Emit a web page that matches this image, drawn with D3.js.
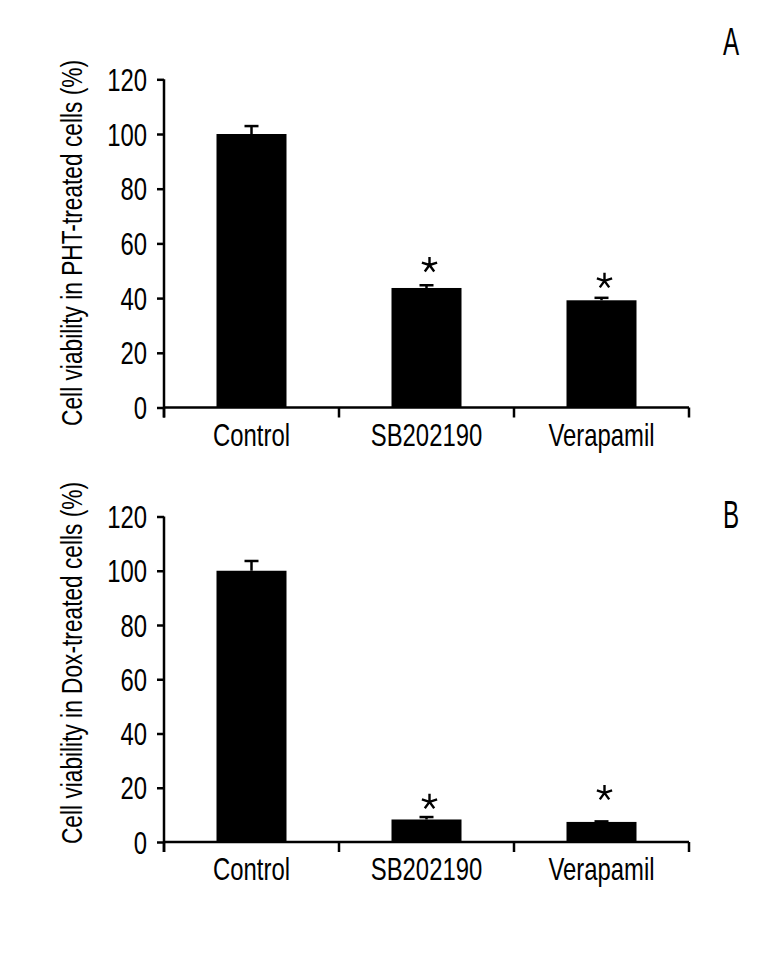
<!DOCTYPE html>
<html>
<head>
<meta charset="utf-8">
<script src="https://cdn.jsdelivr.net/npm/d3@7/dist/d3.min.js"></script>
<style>
  html, body { margin: 0; padding: 0; background: #fff; }
  svg { display: block; }
  text { font-family: "Liberation Sans", Arial, sans-serif; fill: #000; }
</style>
</head>
<body>
<svg id="chart" width="771" height="969"></svg>
<script>
// ---- data ----
const categories = ["Control", "SB202190", "Verapamil"];
const yTicks = [0, 20, 40, 60, 80, 100, 120];

const phtValues = [100, 43.7, 39.2];
const phtErrors = [2.9, 1.0, 0.9];
const phtSignif = [null, 52.1, 46.3];   // asterisk positions (data units)

const doxValues = [100, 8.3, 7.4];
const doxErrors = [3.6, 0.9, 0.2];
const doxSignif = [null, 14.8, 18.1];

const panels = [
  { letter: "A", title: "Cell viability in PHT-treated cells (%)", values: phtValues, errors: phtErrors, signif: phtSignif,
    y0: 407.5, yTop: 79.3, letterY: 55, titleY: 243 },
  { letter: "B", title: "Cell viability in Dox-treated cells (%)", values: doxValues, errors: doxErrors, signif: doxSignif,
    y0: 842, yTop: 516.5, letterY: 528, titleY: 663 }
];

// ---- layout ----
const svg = d3.select("#chart");
const xLeft = 164, xRight = 689;
const x = d3.scaleBand().domain(categories).range([xLeft, xRight]).paddingInner(0.6).paddingOuter(0.3);
const xBounds = d3.scaleLinear().domain([0, categories.length]).range([xLeft, xRight]);
const FS = 31;
const SX = 0.77;   // condensed look
const LW = 2.5;

function addText(g, tx, ty, str, size, anchor, rot, sx) {
  return g.append("text")
    .attr("transform", `translate(${tx},${ty})${rot ? ` rotate(${rot})` : ""} scale(${sx || SX},1)`)
    .attr("text-anchor", anchor)
    .attr("font-size", size)
    .text(str);
}

panels.forEach(p => {
  const g = svg.append("g");
  const y = d3.scaleLinear().domain([0, 120]).range([p.y0, p.yTop]);

  // bars
  g.selectAll("rect.bar").data(p.values).join("rect")
    .attr("class", "bar")
    .attr("x", (d, i) => x(categories[i]))
    .attr("width", x.bandwidth())
    .attr("y", d => y(d))
    .attr("height", d => y(0) - y(d))
    .attr("fill", "#000");

  // error bars (upper)
  const cap = 7;
  p.values.forEach((v, i) => {
    const cx = x(categories[i]) + x.bandwidth() / 2;
    const top = y(v + p.errors[i]);
    g.append("line").attr("x1", cx).attr("x2", cx).attr("y1", y(v)).attr("y2", top)
      .attr("stroke", "#000").attr("stroke-width", LW);
    g.append("line").attr("x1", cx - cap).attr("x2", cx + cap).attr("y1", top).attr("y2", top)
      .attr("stroke", "#000").attr("stroke-width", LW);
  });

  // asterisks
  p.signif.forEach((s, i) => {
    if (s == null) return;
    const cx = x(categories[i]) + x.bandwidth() / 2 + 3;
    const cy = y(s);
    const r = 8;
    let d = "";
    for (let k = 0; k < 5; k++) {
      const a = (-90 + k * 72) * Math.PI / 180;
      d += `M${cx},${cy}L${cx + r * Math.cos(a)},${cy + r * Math.sin(a)}`;
    }
    g.append("path").attr("d", d).attr("stroke", "#000").attr("stroke-width", 2.4)
      .attr("fill", "none");
  });

  // y axis
  const yAxis = d3.axisLeft(y).tickValues(yTicks).tickSize(7).tickPadding(10).tickSizeOuter(0);
  const ya = g.append("g").attr("transform", `translate(${xLeft},0)`).call(yAxis);
  ya.select(".domain").attr("d", `M0,${p.yTop}V${p.y0 + 10}`).attr("stroke-width", LW);
  ya.selectAll(".tick line").attr("stroke-width", LW);
  ya.selectAll(".tick text")
    .attr("font-size", FS).attr("font-family", null)
    .attr("x", 0).attr("dy", "0.36em")
    .attr("transform", `translate(-17,0) scale(${SX},1)`);

  // x axis
  g.append("line").attr("x1", xLeft).attr("x2", xRight).attr("y1", p.y0).attr("y2", p.y0)
    .attr("stroke", "#000").attr("stroke-width", LW);
  d3.range(categories.length + 1).forEach(k => {
    g.append("line").attr("x1", xBounds(k)).attr("x2", xBounds(k))
      .attr("y1", p.y0).attr("y2", p.y0 + 10)
      .attr("stroke", "#000").attr("stroke-width", LW);
  });
  categories.forEach(c => {
    addText(g, x(c) + x.bandwidth() / 2, p.y0 + 38, c, FS, "middle");
  });

  // y title
  addText(g, 82, p.titleY, p.title, 29.5, "middle", -90);

  // panel letter
  addText(g, 731, p.letterY, p.letter, 39, "middle", 0, 0.62);
});
</script>
</body>
</html>
